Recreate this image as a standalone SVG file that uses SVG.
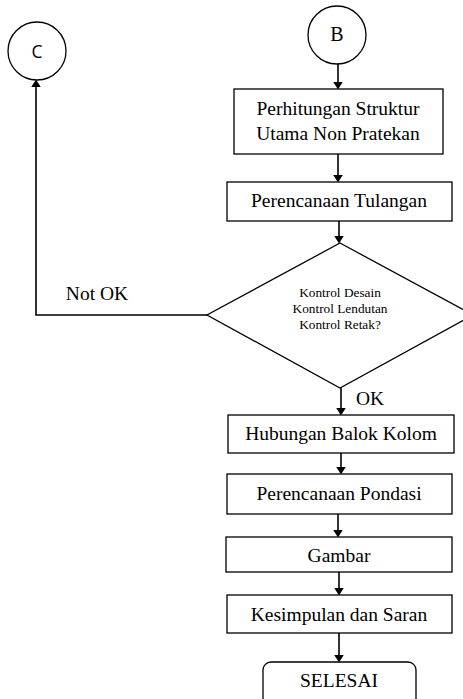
<svg xmlns="http://www.w3.org/2000/svg" width="463" height="699" viewBox="0 0 463 699">
<style>
.sh{fill:#fff;stroke:#000;stroke-width:1.3}
.t{font-family:"Liberation Serif","Times New Roman",serif;font-size:19.5px;fill:#000;text-anchor:middle}
.s{font-family:"Liberation Serif","Times New Roman",serif;font-size:13.3px;fill:#000;text-anchor:middle}
.c{font-family:"Open Sans","Noto Sans",sans-serif;font-size:17.5px;fill:#000;text-anchor:middle}
.ln{fill:none;stroke:#000;stroke-width:1.6}
</style>
<defs>
<marker id="ah" markerWidth="8" markerHeight="10" refX="8" refY="5" orient="auto" markerUnits="userSpaceOnUse" viewBox="0 0 10 10" preserveAspectRatio="none">
<path d="M0,0 L10,5 L0,10 z" fill="#000"/>
</marker>
</defs>
<rect width="463" height="699" fill="#fff"/>
<g id="connectors">
<line class="ln" x1="338" y1="63" x2="338" y2="88" marker-end="url(#ah)"/>
<line class="ln" x1="338" y1="154" x2="338" y2="181" marker-end="url(#ah)"/>
<line class="ln" x1="339" y1="221" x2="339" y2="242" marker-end="url(#ah)"/>
<polyline class="ln" points="207,315 36,315 36,81" marker-end="url(#ah)"/>
<line class="ln" x1="341" y1="388" x2="341" y2="414" marker-end="url(#ah)"/>
<line class="ln" x1="341" y1="453" x2="341" y2="473" marker-end="url(#ah)"/>
<line class="ln" x1="338" y1="514" x2="338" y2="536" marker-end="url(#ah)"/>
<line class="ln" x1="339" y1="572" x2="339" y2="594" marker-end="url(#ah)"/>
<line class="ln" x1="339" y1="633" x2="339" y2="661" marker-end="url(#ah)"/>
<text class="t" x="97" y="300">Not OK</text>
<text class="t" x="370" y="405">OK</text>
</g>
<g id="nodeC">
<circle class="sh" cx="37" cy="51" r="29"/>
<text class="c" x="37" y="58">C</text>
</g>
<g id="nodeB">
<circle class="sh" cx="337" cy="35" r="29"/>
<text class="t" x="337" y="41" style="font-size:20px">B</text>
</g>
<g id="n1">
<rect class="sh" x="234" y="89" width="209" height="65"/>
<text class="t" x="338" y="115">Perhitungan Struktur</text>
<text class="t" x="338" y="140">Utama Non Pratekan</text>
</g>
<g id="n2">
<rect class="sh" x="227" y="182" width="225" height="39"/>
<text class="t" x="339" y="207">Perencanaan Tulangan</text>
</g>
<g id="n3">
<polygon class="sh" points="340,243 473,315 340,388 207,315"/>
<text class="s" x="340" y="297">Kontrol Desain</text>
<text class="s" x="340" y="313">Kontrol Lendutan</text>
<text class="s" x="340" y="329">Kontrol Retak?</text>
</g>
<g id="n4">
<rect class="sh" x="228" y="415" width="226" height="38"/>
<text class="t" x="341" y="440">Hubungan Balok Kolom</text>
</g>
<g id="n5">
<rect class="sh" x="227" y="474" width="225" height="40"/>
<text class="t" x="339" y="500">Perencanaan Pondasi</text>
</g>
<g id="n6">
<rect class="sh" x="226" y="537" width="226" height="35"/>
<text class="t" x="339" y="562">Gambar</text>
</g>
<g id="n7">
<rect class="sh" x="227" y="595" width="225" height="38"/>
<text class="t" x="339" y="621">Kesimpulan dan Saran</text>
</g>
<g id="n8">
<rect class="sh" x="263" y="662" width="153" height="50" rx="8"/>
<text class="t" x="339" y="687">SELESAI</text>
</g>
</svg>
